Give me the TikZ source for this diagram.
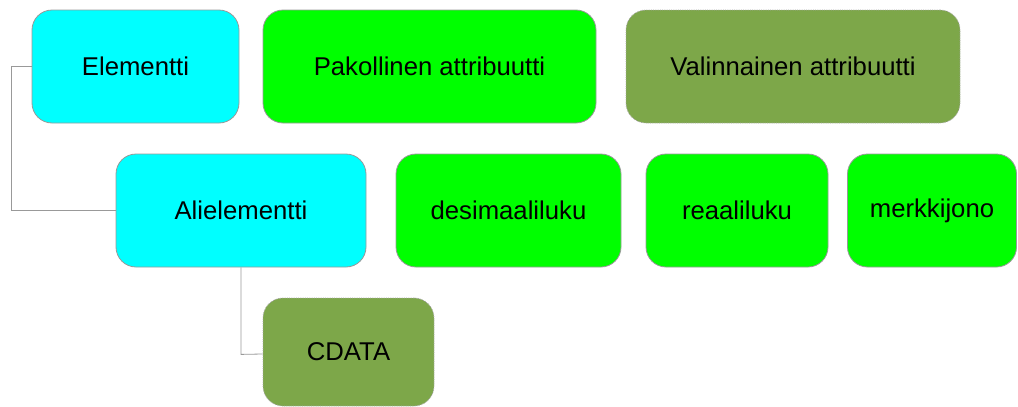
\documentclass[tikz,border=0pt]{standalone}
\usepackage{fontspec}
\setmainfont{Liberation Sans}
\definecolor{elemcyan}{RGB}{0,255,255}
\definecolor{reqgreen}{RGB}{0,255,0}
\definecolor{optolive}{RGB}{125,167,73}
\begin{document}
\begin{tikzpicture}[x=1pt,y=-1pt,
  box/.style={draw=black!40, line width=0.8pt, rounded corners=20pt, inner sep=0pt,
    font=\fontsize{25.7}{30}\selectfont, text=black},
  elem/.style={box, fill=elemcyan},
  req/.style={box, fill=reqgreen},
  opt/.style={box, fill=optolive, draw=black!35, densely dotted},
  link/.style={draw=black!40, line width=0.8pt}]
\useasboundingbox (0,0) rectangle (1018,407);
% top row: legend
\node[elem, minimum width=207pt, minimum height=113pt] (el) at (135.5,66.5) {Elementti};
\node[req, minimum width=333pt, minimum height=113pt] (pak) at (429.5,66.5) {Pakollinen attribuutti};
\node[opt, minimum width=334pt, minimum height=113pt] (val) at (793,66.5) {Valinnainen attribuutti};
% second row
\node[elem, minimum width=250pt, minimum height=113pt] (ali) at (241,210.5) {Alielementti};
\node[req, minimum width=225pt, minimum height=113pt] (des) at (508.5,210.5) {desimaaliluku};
\node[req, minimum width=182pt, minimum height=113pt] (rea) at (737,210.5) {reaaliluku};
\node[req, minimum width=169pt, minimum height=113pt] (mer) at (932,210.5) {merkkijono};
% third row
\node[opt, minimum width=171pt, minimum height=108pt] (cd) at (348.5,352) {CDATA};
% connectors
\draw[link] (el.west) -- ++(-20,0) |- (ali.west);
\draw[link] (ali.south) -- ++(0,87) -- (cd.west |- 0,354) ;
\end{tikzpicture}
\end{document}
